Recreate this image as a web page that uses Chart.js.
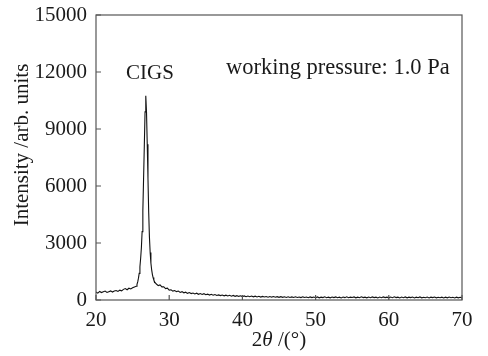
<!DOCTYPE html>
<html>
<head>
<meta charset="utf-8">
<script src="https://cdn.jsdelivr.net/npm/chart.js@4/dist/chart.umd.min.js"></script>
<style>
html,body{margin:0;padding:0;background:#fff;}
#wrap{width:488px;height:356px;}
</style>
</head>
<body>
<div id="wrap"><canvas id="c" width="488" height="356"></canvas></div>
<script>
// 2θ (degrees) and intensity (arb. units)
const angleLow = [20,20.25,20.5,20.75,21,21.25,21.5,21.75,22,22.25,22.5,22.75,23,23.25,23.5,23.75,24,24.25,24.5,24.75,25,25.25,25.5];
const countLow = [420,360,450,390,430,470,400,440,480,420,470,500,450,520,480,560,600,540,620,580,640,690,720];

const anglePeak = [25.6,25.7,25.8,25.9,26.0,26.1,26.2,26.3,26.4,26.5,26.6,26.7,26.8,26.9,27.0,27.1,27.2,27.3,27.4,27.5,27.6,27.7,27.8,27.9,28.0];
const countPeak = [820,950,1150,1400,1750,2200,2750,3600,4700,6400,8100,9900,10750,9900,8200,6400,4600,3300,2500,1950,1600,1350,1180,1050,950];

const angleHigh = [28.25,28.5,28.75,29,29.25,29.5,29.75,30,30.25,30.5,30.75,31,31.25,31.5,31.75,32,32.25,32.5,32.75,33,33.25,33.5,33.75,34,34.25,34.5,34.75,35,35.25,35.5,35.75,36,36.25,36.5,36.75,37,37.25,37.5,37.75,38,38.25,38.5,38.75,39,39.25,39.5,39.75,40,40.25,40.5,40.75,41,41.25,41.5,41.75,42,42.25,42.5,42.75,43,43.25,43.5,43.75,44,44.25,44.5,44.75,45,45.25,45.5,45.75,46,46.25,46.5,46.75,47,47.25,47.5,47.75,48,48.25,48.5,48.75,49,49.25,49.5,49.75,50,50.25,50.5,50.75,51,51.25,51.5,51.75,52,52.25,52.5,52.75,53,53.25,53.5,53.75,54,54.25,54.5,54.75,55,55.25,55.5,55.75,56,56.25,56.5,56.75,57,57.25,57.5,57.75,58,58.25,58.5,58.75,59,59.25,59.5,59.75,60,60.25,60.5,60.75,61,61.25,61.5,61.75,62,62.25,62.5,62.75,63,63.25,63.5,63.75,64,64.25,64.5,64.75,65,65.25,65.5,65.75,66,66.25,66.5,66.75,67,67.25,67.5,67.75,68,68.25,68.5,68.75,69,69.25,69.5,69.75,70];
const countHigh = [840,760,790,690,700,600,620,520,540,470,500,440,470,400,440,380,410,350,390,340,370,320,360,300,340,290,330,280,310,260,300,250,290,240,270,230,260,220,255,210,245,200,240,195,230,190,225,180,215,175,210,170,205,165,200,160,195,155,190,160,185,150,185,150,180,145,175,140,175,140,170,135,170,135,165,130,170,130,160,125,165,130,160,120,160,125,155,120,160,115,150,125,165,120,150,115,155,125,160,120,150,110,155,125,170,120,150,130,160,115,150,120,165,125,150,115,155,120,160,125,150,110,155,120,160,125,150,115,155,120,165,125,150,110,155,120,160,115,150,125,155,110,150,120,160,115,145,120,155,110,150,125,155,115,145,120,150,110,150,115,155,120,145,110,150,115,145,120];

const xTicks = [20,30,40,50,60,70];
const yTicks = [0,3000,6000,9000,12000,15000];

const angles = angleLow.concat(anglePeak, angleHigh);
const counts = countLow.concat(countPeak, countHigh);
const points = angles.map((a, i) => ({x: a, y: counts[i]}));

const FONT = '"Liberation Serif", "Times New Roman", serif';

const decor = {
  id: 'decor',
  afterDraw(chart) {
    const ctx = chart.ctx;
    const a = chart.chartArea;
    const xs = chart.scales.x, ys = chart.scales.y;
    ctx.save();
    ctx.strokeStyle = '#555';
    ctx.lineWidth = 1.2;
    ctx.strokeRect(a.left, a.top, a.right - a.left, a.bottom - a.top);
    ctx.beginPath();
    yTicks.forEach(v => {
      const p = ys.getPixelForValue(v);
      ctx.moveTo(a.left, p); ctx.lineTo(a.left + 5, p);
    });
    xTicks.forEach(v => {
      const p = xs.getPixelForValue(v);
      ctx.moveTo(p, a.bottom); ctx.lineTo(p, a.bottom - 5);
    });
    ctx.stroke();

    ctx.fillStyle = '#1a1a1a';
    ctx.textBaseline = 'middle';
    // annotations
    ctx.font = '21px ' + FONT;
    ctx.textAlign = 'center';
    ctx.fillText('CIGS', 150, 73);
    ctx.font = '22.5px ' + FONT;
    ctx.textAlign = 'left';
    ctx.fillText('working pressure: 1.0 Pa', 226, 68);

    // x title: 2θ /(°)
    const parts = [['2', ''], ['\u03b8', 'italic '], [' /(\u00b0)', '']];
    let total = 0;
    parts.forEach(p => { ctx.font = p[1] + '21px ' + FONT; total += ctx.measureText(p[0]).width; });
    let x = 279 - total / 2;
    ctx.textAlign = 'left';
    parts.forEach(p => {
      ctx.font = p[1] + '21px ' + FONT;
      ctx.fillText(p[0], x, 340);
      x += ctx.measureText(p[0]).width;
    });

    // y title
    ctx.save();
    ctx.translate(22, 145);
    ctx.rotate(-Math.PI / 2);
    ctx.textAlign = 'center';
    ctx.font = '21px ' + FONT;
    ctx.fillText('Intensity /arb. units', 0, 0);
    ctx.restore();
    ctx.restore();
  }
};

new Chart(document.getElementById('c'), {
  type: 'line',
  data: {
    datasets: [{
      data: points,
      borderColor: '#111',
      borderWidth: 1.1,
      pointRadius: 0,
      tension: 0,
      fill: false
    }]
  },
  options: {
    responsive: false,
    animation: false,
    devicePixelRatio: 1,
    layout: {padding: {top: 15, right: 26, left: 0, bottom: 0}},
    plugins: {legend: {display: false}, tooltip: {enabled: false}},
    scales: {
      x: {
        type: 'linear', min: 20, max: 70,
        afterBuildTicks: s => { s.ticks = xTicks.map(v => ({value: v})); },
        afterFit: s => { s.height = 56; s.paddingLeft = 0; s.paddingRight = 0; },
        grid: {display: false, drawTicks: false},
        border: {display: false},
        ticks: {font: {family: FONT, size: 21}, color: '#1a1a1a', padding: 8, maxRotation: 0,
                callback: v => String(v)}
      },
      y: {
        min: 0, max: 15000,
        afterBuildTicks: s => { s.ticks = yTicks.map(v => ({value: v})); },
        afterFit: s => { s.width = 96; s.paddingTop = 0; s.paddingBottom = 0; },
        grid: {display: false, drawTicks: false},
        border: {display: false},
        ticks: {font: {family: FONT, size: 21}, color: '#1a1a1a', padding: 9,
                callback: v => String(v)}
      }
    }
  },
  plugins: [decor]
});
</script>
</body>
</html>
